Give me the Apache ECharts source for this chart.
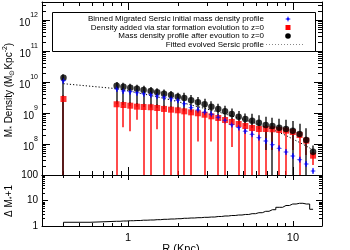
<!DOCTYPE html>
<html><head><meta charset="utf-8">
<script src="https://cdn.jsdelivr.net/npm/echarts@6/dist/echarts.min.js"></script>
<style>html,body{margin:0;padding:0;background:#fff}#c{width:350px;height:250px}</style>
</head><body><div id="c"></div>
<script>
// ---------------- data ----------------
const radius = [0.405, 0.851, 0.936, 1.03, 1.13, 1.24, 1.37, 1.50, 1.65, 1.82, 2.00, 2.19, 2.41, 2.65, 2.91, 3.20,
  3.52, 3.87, 4.25, 4.68, 5.14, 5.65, 6.21, 6.83, 7.50, 8.25, 9.07, 9.97, 10.96, 12.04, 13.24];

// Mass density profile after evolution to z=0 (black)
const blackVal = [1.38e10, 7.6e9, 7.05e9, 6.55e9, 6.08e9, 5.52e9, 5.13e9, 4.66e9, 4.20e9, 3.81e9, 3.36e9, 3.05e9,
  2.57e9, 2.21e9, 1.91e9, 1.60e9, 1.35e9, 1.13e9, 9.3e8, 7.6e8, 6.4e8, 5.65e8, 4.87e8, 4.10e8, 3.81e8, 3.36e8,
  3.05e8, 2.69e8, 2.10e8, 1.35e8, 5.65e7];
const blackHi = [1.77e10, 1.0e10, 9.5e9, 8.8e9, 8.2e9, 7.5e9, 6.9e9, 6.3e9, 5.7e9, 5.1e9, 4.5e9, 4.5e9, 3.8e9,
  3.3e9, 2.9e9, 2.4e9, 2.0e9, 1.7e9, 1.4e9, 1.15e9, 9.6e8, 9.5e8, 8.5e8, 7.5e8, 7.0e8, 6.5e8, 6.0e8, 5.5e8,
  4.5e8, 3.2e8, 9.0e7];
const blackLo = [1e6, 1.9e9, 1.8e9, 1.7e9, 1.6e9, 1.55e9, 1.5e9, 1.45e9, 1.35e9, 1.28e9, 1.22e9, 1.13e9, 1.05e9,
  9.8e8, 8.8e8, 7.8e8, 6.9e8, 6.0e8, 5.1e8, 4.4e8, 3.8e8, 3.3e8, 3.0e8, 6.4e7, 1e6, 2.8e8, 2.7e8, 1e6, 2.0e8,
  1e6, 4.2e7];

// Binned migrated Sersic initial mass density profile (blue)
const blueVal = [1.10e10, 5.94e9, 5.13e9, 4.87e9, 4.52e9, 4.20e9, 3.89e9, 3.53e9, 3.21e9, 2.89e9, 2.57e9, 2.0e9,
  1.48e9, 1.25e9, 1.05e9, 9.1e8, 7.3e8, 5.8e8, 4.2e8, 3.4e8, 2.6e8, 2.06e8, 1.6e8, 1.25e8, 9.5e7, 7.3e7, 5.5e7,
  4.1e7, 3.1e7, 2.27e7, 1.35e7];
const blueHi = [1.38e10, 7.4e9, 6.4e9, 6.1e9, 5.7e9, 5.3e9, 4.9e9, 4.4e9, 4.0e9, 3.6e9, 3.2e9, 2.5e9, 1.85e9,
  1.56e9, 1.31e9, 1.14e9, 9.1e8, 7.3e8, 5.3e8, 4.3e8, 3.3e8, 2.6e8, 2.0e8, 1.56e8, 1.19e8, 9.1e7, 6.9e7, 5.1e7,
  3.9e7, 2.8e7, 1.69e7];
const blueLo = [8.8e9, 4.75e9, 4.1e9, 3.9e9, 3.6e9, 3.36e9, 3.1e9, 2.8e9, 2.57e9, 2.3e9, 2.06e9, 1.6e9, 1.18e9,
  1.0e9, 8.4e8, 7.3e8, 5.8e8, 4.6e8, 3.4e8, 2.7e8, 2.1e8, 1.65e8, 1.28e8, 1.0e8, 7.6e7, 5.8e7, 4.4e7, 3.3e7,
  2.5e7, 1.82e7, 1.08e7];

// Density added via star formation evolution to z=0 (red)
const redVal = [2.83e9, 1.91e9, 1.81e9, 1.72e9, 1.60e9, 1.56e9, 1.53e9, 1.45e9, 1.35e9, 1.28e9, 1.22e9, 1.13e9,
  1.05e9, 9.8e8, 8.8e8, 7.8e8, 6.9e8, 5.95e8, 5.13e8, 4.42e8, 3.81e8, 3.28e8, 3.05e8, 3.05e8, 2.98e8, 2.83e8,
  2.69e8, 2.44e8, 1.95e8, 1.28e8, 4.2e7];
const redHi = [3.7e9, 2.5e9, 2.35e9, 2.2e9, 2.1e9, 2.0e9, 2.0e9, 1.9e9, 1.75e9, 1.65e9, 1.6e9, 1.47e9, 1.37e9,
  1.27e9, 1.14e9, 1.0e9, 9.0e8, 7.7e8, 6.7e8, 5.7e8, 5.0e8, 4.3e8, 4.0e8, 4.0e8, 3.9e8, 3.7e8, 3.5e8, 3.2e8,
  2.5e8, 1.7e8, 5.5e7];
const redLo = [1e6, 1e6, 3.5e8, 2.6e8, 6.0e8, 1e6, 1e6, 3.0e8, 1e6, 1e6, 1e6, 1e6, 1e6, 1.2e8, 1e6, 1.2e8, 1e6,
  1e6, 8.0e7, 1e6, 1e6, 1e6, 1e6, 1e6, 6.4e7, 1e6, 1e6, 6.4e7, 1e6, 4.4e7, 2.1e7];

// Fitted evolved Sersic profile (dotted)
const fitVal = [8.81e9, 6.08e9, 5.52e9, 5.01e9, 4.52e9, 4.10e9, 3.67e9, 3.28e9, 2.94e9, 2.63e9, 2.32e9, 2.06e9,
  1.81e9, 1.60e9, 1.40e9, 1.22e9, 1.08e9, 9.3e8, 8.0e8, 6.9e8, 5.95e8, 5.05e8, 4.26e8, 3.53e8, 2.94e8, 2.35e8,
  1.88e8, 1.45e8, 1.12e8, 8.6e7, 6.4e7];

// Lower panel: Delta M* + 1 (step histogram)
const histStartVal = 1;
const histVal = [1.40, 1.53, 1.57, 1.61, 1.64, 1.69, 1.72, 1.77, 1.83, 1.88, 1.93, 2.01, 2.06, 2.12, 2.19, 2.25,
  2.36, 2.47, 2.58, 2.70, 2.83, 3.04, 3.32, 3.77, 4.35, 5.41, 6.36, 7.29, 7.77, 7.29, 4.52];

// axes / ticks
const xMin = 0.3, xMax = 15;
const yMainMin = 1e7, yMainMax = 3.8e12;
const yLowMin = 1, yLowMax = 100;
const xMinorTicks = [0.4, 0.5, 0.6, 0.7, 0.8, 0.9, 2, 3, 4, 5, 6, 7, 8, 9];
const yMainMinorTicks = [2e7,3e7,4e7,5e7,6e7,7e7,8e7,9e7, 2e8,3e8,4e8,5e8,6e8,7e8,8e8,9e8,
  2e9,3e9,4e9,5e9,6e9,7e9,8e9,9e9, 2e10,3e10,4e10,5e10,6e10,7e10,8e10,9e10,
  2e11,3e11,4e11,5e11,6e11,7e11,8e11,9e11, 2e12,3e12];
const yLowMinorTicks = [2,3,4,5,6,7,8,9,20,30,40,50,60,70,80,90];

const legendLabels = ['Binned Migrated Sersic initial mass density profile',
  'Density added via star formation evolution to z=0',
  'Mass density profile after evoution to z=0',
  'Fitted evolved Sersic profile'];
const xTitle = 'R (Kpc)';

// ---------------- chart ----------------
const FONT = '"Liberation Sans", Arial, Helvetica, sans-serif';
const INK = '#000';
const starPath = 'path://M0,-10L2.6,-2.6L10,0L2.6,2.6L0,10L-2.6,2.6L-10,0L-2.6,-2.6Z';

function isPow10(v){ const e = Math.log10(v); return Math.abs(e - Math.round(e)) < 1e-6; }

function errBar(color, width){
  return function(params, api){
    const x = api.value(0);
    const p1 = api.coord([x, api.value(1)]);
    const p2 = api.coord([x, api.value(2)]);
    const px = Math.round(p1[0]);
    return {type:'line', shape:{x1:px, y1:p1[1], x2:px, y2:p2[1]},
      style:{stroke:color, lineWidth:width}};
  };
}
function xTicks(len){
  return function(params, api){
    const cs = params.coordSys;
    const px = Math.round(api.coord([api.value(0), api.value(1)])[0]) + 0.5;
    return {type:'group', children:[
      {type:'line', shape:{x1:px, y1:cs.y + cs.height, x2:px, y2:cs.y + cs.height - len}, style:{stroke:INK, lineWidth:1}},
      {type:'line', shape:{x1:px, y1:cs.y, x2:px, y2:cs.y + len}, style:{stroke:INK, lineWidth:1}}
    ]};
  };
}
function yTicks(len){
  return function(params, api){
    const cs = params.coordSys;
    const py = Math.round(api.coord([api.value(0), api.value(1)])[1]) + 0.5;
    return {type:'group', children:[
      {type:'line', shape:{x1:cs.x, y1:py, x2:cs.x + len, y2:py}, style:{stroke:INK, lineWidth:1}},
      {type:'line', shape:{x1:cs.x + cs.width, y1:py, x2:cs.x + cs.width - len, y2:py}, style:{stroke:INK, lineWidth:1}}
    ]};
  };
}

const lineStyleAx = {color: INK, width: 1};
function xAx(grid, pos, tickLen, labels){
  return {type:'log', gridIndex:grid, position:pos, min:xMin, max:xMax,
    axisLine:{show:true, lineStyle:lineStyleAx, onZero:false},
    axisTick:{show:true, inside:true, length:tickLen, lineStyle:lineStyleAx},
    axisLabel:{show:!!labels, margin:6, color:INK, fontSize:11, fontFamily:FONT,
      formatter: v => isPow10(v) ? String(Math.round(v)) : ''},
    splitLine:{show:false}};
}
function yAx(grid, pos, min, max, tickLen, labels, fmt, rich){
  const a = {type:'log', gridIndex:grid, position:pos, min:min, max:max,
    axisLine:{show:true, lineStyle:lineStyleAx, onZero:false},
    axisTick:{show:true, inside:true, length:tickLen, lineStyle:lineStyleAx},
    axisLabel:{show:!!labels, margin:4, color:INK, fontSize:10, fontFamily:FONT},
    splitLine:{show:false}};
  if (fmt) a.axisLabel.formatter = fmt;
  if (rich) a.axisLabel.rich = rich;
  return a;
}

const powRich = {
  b:{fontSize:10, fontFamily:FONT, color:INK, lineHeight:16, verticalAlign:'bottom'},
  s:{fontSize:7, fontFamily:FONT, color:INK, lineHeight:7, verticalAlign:'top'}
};
function powFmt(v){
  if (!isPow10(v)) return '';
  const e = Math.round(Math.log10(v));
  if (e < 8) return '';
  return '{b|10}{s|' + e + '}';
}
function lowFmt(v){ return isPow10(v) ? String(Math.round(v)) : ''; }

const pts = arr => radius.map((r, i) => [r, arr[i]]);
const bars = (lo, hi) => radius.map((r, i) => [r, lo[i], hi[i]]);

const rows = [19, 27.5, 36, 44.5];
const legX = 264, symX = 288;

const option = {
  animation:false,
  backgroundColor:'#fff',
  grid:[
    {left:42, top:2, width:280, height:173},
    {left:42, top:175, width:280, height:51}
  ],
  xAxis:[ xAx(0,'bottom',8,false), xAx(0,'top',8,false), xAx(1,'bottom',5,true), xAx(1,'top',5,false) ],
  yAxis:[
    yAx(0,'left',yMainMin,yMainMax,8,true,powFmt,powRich),
    yAx(0,'right',yMainMin,yMainMax,8,false),
    yAx(1,'left',yLowMin,yLowMax,6,true,lowFmt),
    yAx(1,'right',yLowMin,yLowMax,6,false)
  ],
  series:[
    {type:'custom', xAxisIndex:0, yAxisIndex:0, data:xMinorTicks.map(v=>[v, yMainMin*10]), renderItem:xTicks(4), silent:true, z:1},
    {type:'custom', xAxisIndex:0, yAxisIndex:0, data:yMainMinorTicks.map(v=>[1, v]), renderItem:yTicks(4), silent:true, z:1},
    {type:'custom', xAxisIndex:2, yAxisIndex:2, data:xMinorTicks.map(v=>[v, 10]), renderItem:xTicks(3), silent:true, z:1},
    {type:'custom', xAxisIndex:2, yAxisIndex:2, data:yLowMinorTicks.map(v=>[1, v]), renderItem:yTicks(3), silent:true, z:1},

    {type:'line', xAxisIndex:0, yAxisIndex:0, data:pts(fitVal), showSymbol:false, symbol:'none',
      lineStyle:{color:INK, width:1, type:[1.2,2]}, z:2},

    {type:'custom', xAxisIndex:0, yAxisIndex:0, clip:true, data:bars(redLo, redHi), renderItem:errBar('#ff1010',1.5), encode:{x:0,y:[1,2]}, z:3},
    {type:'custom', xAxisIndex:0, yAxisIndex:0, clip:true, data:bars(blackLo, blackHi), renderItem:errBar('#000',1.3), encode:{x:0,y:[1,2]}, z:3},
    {type:'custom', xAxisIndex:0, yAxisIndex:0, clip:true, data:bars(blueLo, blueHi), renderItem:errBar('#0000ff',1), encode:{x:0,y:[1,2]}, z:4},

    {type:'scatter', xAxisIndex:0, yAxisIndex:0, data:pts(redVal), symbol:'rect', symbolSize:6,
      itemStyle:{color:'#ff0000'}, z:5},
    {type:'scatter', xAxisIndex:0, yAxisIndex:0, data:pts(blackVal), symbol:'circle', symbolSize:6.5,
      itemStyle:{color:'#000'}, z:6},
    {type:'scatter', xAxisIndex:0, yAxisIndex:0, data:pts(blueVal), symbol:starPath, symbolSize:6,
      itemStyle:{color:'#0000ff'}, z:7},

    {type:'line', xAxisIndex:2, yAxisIndex:2, step:'middle', showSymbol:false, symbol:'none',
      data:[[radius[0], histStartVal]].concat(pts(histVal)), lineStyle:{color:INK, width:1}, z:3}
  ],
  graphic:[
    {type:'rect', z:100, shape:{x:52.5, y:12.5, width:263, height:39}, style:{fill:'#fff', stroke:INK, lineWidth:1}},
    ...legendLabels.map((t, k) => ({type:'text', z:101, x:legX, y:rows[k],
      style:{text:t, fill:INK, font:'8px ' + FONT, textAlign:'right', textVerticalAlign:'middle'}})),
    {type:'polygon', z:101, shape:{points:[[symX,rows[0]-3],[symX+0.8,rows[0]-0.8],[symX+3,rows[0]],[symX+0.8,rows[0]+0.8],
      [symX,rows[0]+3],[symX-0.8,rows[0]+0.8],[symX-3,rows[0]],[symX-0.8,rows[0]-0.8]]}, style:{fill:'#0000ff'}},
    {type:'rect', z:101, shape:{x:symX-2.5, y:rows[1]-2.5, width:5, height:5}, style:{fill:'#ff0000'}},
    {type:'circle', z:101, shape:{cx:symX, cy:rows[2], r:2.8}, style:{fill:'#000'}},
    {type:'line', z:101, shape:{x1:266, y1:rows[3], x2:305, y2:rows[3]}, style:{stroke:'#888', lineWidth:1, lineDash:[1,2]}},

    {type:'text', z:101, x:9, y:90, rotation:Math.PI/2,
      style:{text:'{n|M}{sb|*}{n| Density (M}{sb|⊙}{n|Kpc}{sp|-2}{n|)}', fill:INK, font:'10px ' + FONT,
        textAlign:'center', textVerticalAlign:'middle',
        rich:{n:{fontSize:10, fontFamily:FONT, lineHeight:14, verticalAlign:'middle'},
              sb:{fontSize:7, fontFamily:FONT, lineHeight:7, verticalAlign:'bottom'},
              sp:{fontSize:7, fontFamily:FONT, lineHeight:7, verticalAlign:'top'}}}},
    {type:'text', z:101, x:9, y:201, rotation:Math.PI/2,
      style:{text:'{n|Δ M}{sb|*}{n|+1}', fill:INK, font:'10px ' + FONT,
        textAlign:'center', textVerticalAlign:'middle',
        rich:{n:{fontSize:10, fontFamily:FONT, lineHeight:14, verticalAlign:'middle'},
              sb:{fontSize:7, fontFamily:FONT, lineHeight:7, verticalAlign:'bottom'}}}},
    {type:'text', z:101, x:181, y:243,
      style:{text:xTitle, fill:INK, font:'11px ' + FONT, textAlign:'center', textVerticalAlign:'top'}}
  ]
};
const chart = echarts.init(document.getElementById('c'));
chart.setOption(option);
</script></body></html>
